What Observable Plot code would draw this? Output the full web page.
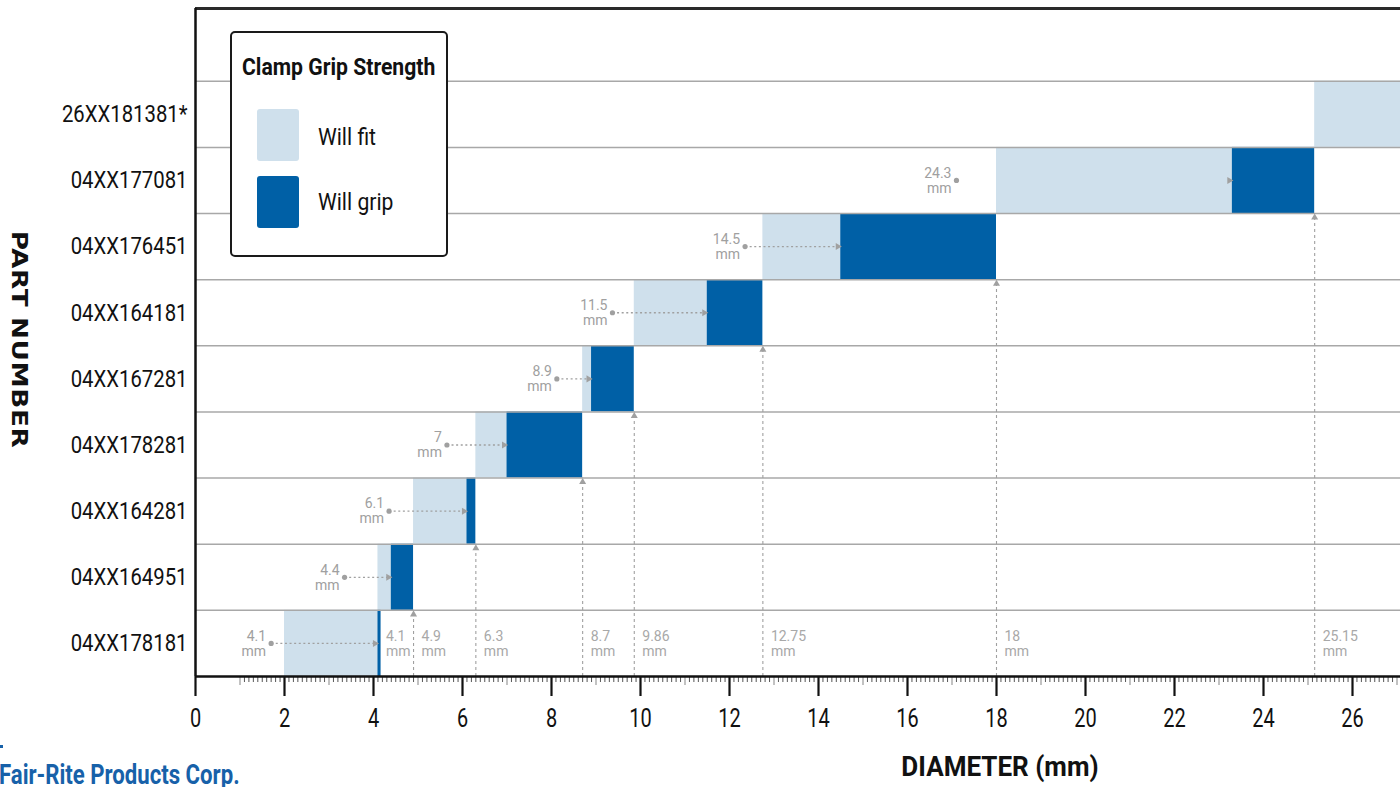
<!DOCTYPE html>
<html>
<head>
<meta charset="utf-8">
<script src="https://cdn.jsdelivr.net/npm/d3@7"></script>
<script src="https://cdn.jsdelivr.net/npm/@observablehq/plot@0.6"></script>
<style>
  html, body { margin: 0; padding: 0; background: #fff; overflow: hidden; }
  #wrap { position: relative; width: 1400px; height: 787px; overflow: hidden; background: #fff; font-family: Roboto, sans-serif; }
  #chart { position: absolute; left: 0; top: 0; width: 1802px; height: 787px; }
  #chart svg { max-width: none !important; width: 1802px !important; height: 787px !important; }
  .ov { position: absolute; white-space: nowrap; line-height: 1; }
  #legendBox { position: absolute; left: 230px; top: 31px; width: 218px; height: 226px; box-sizing: border-box; border: 2px solid #1a1a1a; border-radius: 5px; background: #fff; }
  .sw { position: absolute; width: 42px; height: 52px; border-radius: 3px; }
</style>
</head>
<body>
<div id="wrap">
  <div id="chart"></div>
  <div id="legendBox"></div>
  <div class="ov" id="legTitle" style="left:242px; top:56px; font-size:23px; font-weight:700; color:#111; transform:scaleX(0.92); transform-origin:left center;"></div>
  <div class="sw" id="sw0" style="left:257px; top:109px;"></div>
  <div class="sw" id="sw1" style="left:257px; top:176px;"></div>
  <div class="ov" id="leg0" style="left:318px; top:124.5px; font-size:24px; color:#111; transform:scaleX(0.88); transform-origin:left center;"></div>
  <div class="ov" id="leg1" style="left:318px; top:189.5px; font-size:24px; color:#111; transform:scaleX(0.88); transform-origin:left center;"></div>
  <div class="ov" id="xTitle" style="left:800px; width:400px; text-align:center; top:753px; font-size:28px; font-weight:700; color:#111; transform:scaleX(0.93); transform-origin:center center;"></div>
  <div class="ov" id="yTitle" style="left:-132px; width:300px; text-align:center; top:328.5px; font-family:'DejaVu Sans'; font-size:21px; font-weight:700; letter-spacing:0.5px; color:#111; transform:rotate(90deg) scaleX(1.25); transform-origin:center center;"></div>
  <div style="position:absolute; left:0; top:745px; width:3px; height:3px; background:#1761a9;"></div>
  <div class="ov" id="logo" style="left:-1px; top:762px; font-size:27px; font-weight:700; color:#1761a9; transform:scaleX(0.82); transform-origin:left center;"></div>
</div>
<script>
// ---- Data (rows listed bottom to top) ----
const parts      = ["04XX178181", "04XX164951", "04XX164281", "04XX178281", "04XX167281", "04XX164181", "04XX176451", "04XX177081", "26XX181381*"];
const fitStart   = [2,    4.1,  4.9,  6.3,  8.7,  9.86,  12.75, 18,    25.15];
const gripStart  = [4.1,  4.4,  6.1,  7,    8.9,  11.5,  14.5,  23.3,  null];
const gripEnd    = [4.17, 4.9,  6.3,  8.7,  9.86, 12.75, 18,    25.15, null];
const lastFitEnd = 30;
// left call-out labels ("will grip from")
const gripLabels = ["4.1", "4.4", "6.1", "7", "8.9", "11.5", "14.5", "24.3"];
const gripLabelDot = [1.7, 3.35, 4.35, 5.65, 8.12, 9.37, 12.35, 17.1];
const gripLabelLine = [true, true, true, true, true, true, true, false];
// maximum diameter labels along the bottom row
const maxValues = [4.1, 4.9, 6.3, 8.7, 9.86, 12.75, 18, 25.15];
const maxLabels = ["4.1", "4.9", "6.3", "8.7", "9.86", "12.75", "18", "25.15"];
const majorTicks = d3.range(0, 37, 2);
const legendTitle = "Clamp Grip Strength";
const legendLabels = ["Will fit", "Will grip"];
const xTitle = "DIAMETER (mm)";
const yTitle = "PART NUMBER";
const logoText = "Fair-Rite Products Corp.";

const light = "#cfe0ec", dark = "#0060a6", gray = "#a0a0a0";

const rows = parts.map((p, i) => ({
  i, part: p,
  fitStart: fitStart[i],
  fitEnd: gripStart[i] != null ? gripStart[i] : lastFitEnd,
  gripStart: gripStart[i], gripEnd: gripEnd[i]
}));
const gripRows = rows.filter(d => d.gripStart != null);
const annRows = gripLabels.map((l, i) => ({ i, label: l, dot: gripLabelDot[i], grip: gripStart[i], line: gripLabelLine[i] }));
// each max value is the grip end of row k, so the guide rises to the bottom of that row
const maxRows = maxValues.map((v, k) => ({ value: v, label: maxLabels[k], row: k }));
const bottomRowCenter = 0 + 0.5;

const minorTicks = d3.range(11, 361).filter(k => k % 10 !== 0).map(k => k / 10);
const midTicks = d3.range(1, 37, 2);

const svg = Plot.plot({
  width: 1802, height: 787,
  marginLeft: 195, marginRight: 5, marginTop: 8, marginBottom: 111,
  x: { domain: [0, 36] },
  y: { domain: [0, 10.1] },
  style: { fontFamily: "Roboto, sans-serif", background: "white", maxWidth: "none" },
  marks: [
    Plot.rect(rows, { x1: "fitStart", x2: "fitEnd", y1: "i", y2: d => d.i + 1, fill: light }),
    Plot.rect(gripRows, { x1: "gripStart", x2: "gripEnd", y1: "i", y2: d => d.i + 1, fill: dark }),
    Plot.ruleY(d3.range(1, 10), { stroke: "#a8a8a8", strokeWidth: 1.5 }),
    // vertical dashed guides from bar end to axis
    Plot.ruleX(maxRows.filter(d => d.row > 0), { x: "value", y1: 0, y2: "row", stroke: gray, strokeDasharray: "3,3", strokeWidth: 1.1 }),
    Plot.dot(maxRows.filter(d => d.row > 0), { x: "value", y: "row", symbol: "triangle", r: 2.6, fill: gray, dy: 4 }),
    // bottom max labels
    Plot.text(maxRows, { x: "value", y: () => bottomRowCenter, text: d => d.label + "\nmm", textAnchor: "start", dx: 8, fontSize: 14, lineHeight: 1.07, fill: "#a8a8a8" }),
    // left call-outs
    Plot.link(annRows.filter(d => d.line), { x1: "dot", x2: "grip", y1: d => d.i + 0.5, y2: d => d.i + 0.5, stroke: gray, strokeDasharray: "2,2.6", strokeWidth: 1.3 }),
    Plot.dot(annRows, { x: "dot", y: d => d.i + 0.5, r: 2.6, fill: gray }),
    Plot.dot(annRows, { x: "grip", y: d => d.i + 0.5, symbol: "triangle", rotate: 90, r: 2.6, fill: gray, dx: -3 }),
    Plot.text(annRows, { x: "dot", y: d => d.i + 0.5, text: d => d.label + "\nmm", textAnchor: "end", dx: -5, fontSize: 14, lineHeight: 1.07, fill: "#a0a0a0" }),
    // frame
    Plot.ruleY([10.1], { stroke: "#2a2a2a", strokeWidth: 3 }),
    Plot.ruleX([0], { stroke: "#111", strokeWidth: 2.5 }),
    // axes
    Plot.axisX({ ticks: minorTicks, tickSize: 6, fill: "none", stroke: "#555", strokeWidth: 1, label: null }),
    Plot.axisX({ ticks: midTicks, tickSize: 9, fill: "none", stroke: "#999", strokeWidth: 1.2, label: null }),
    Plot.axisX({ ticks: majorTicks.filter(v => v <= 26), tickSize: 20, tickPadding: 13, stroke: "#111", strokeWidth: 2.2, fill: "#111", fontSize: 25, label: null }),
    Plot.axisX({ ticks: majorTicks.filter(v => v > 26), tickSize: 20, fill: "none", stroke: "#111", strokeWidth: 2.2, label: null }),
    Plot.ruleY([0], { stroke: "#111", strokeWidth: 2.5 }),
    Plot.axisY({ ticks: d3.range(parts.length).map(i => i + 0.5), tickFormat: d => parts[Math.floor(d)], tickSize: 0, tickPadding: 8, fontSize: 24.5, fill: "#111", label: null })
  ]
});

function condense(selector, s) {
  svg.querySelectorAll(selector).forEach(t => {
    const x = +(t.getAttribute("x") || 0);
    const tr = t.getAttribute("transform") || "";
    t.removeAttribute("x");
    t.setAttribute("transform", `${tr} translate(${x},0) scale(${s},1)`);
  });
}
condense('g[aria-label="y-axis tick label"] text', 0.83);
condense('g[aria-label="x-axis tick label"] text', 0.8);

document.getElementById("chart").appendChild(svg);
document.getElementById("legTitle").textContent = legendTitle;
document.getElementById("leg0").textContent = legendLabels[0];
document.getElementById("leg1").textContent = legendLabels[1];
document.getElementById("sw0").style.background = light;
document.getElementById("sw1").style.background = dark;
document.getElementById("xTitle").textContent = xTitle;
document.getElementById("yTitle").textContent = yTitle;
document.getElementById("logo").textContent = logoText;
</script>
</body>
</html>
